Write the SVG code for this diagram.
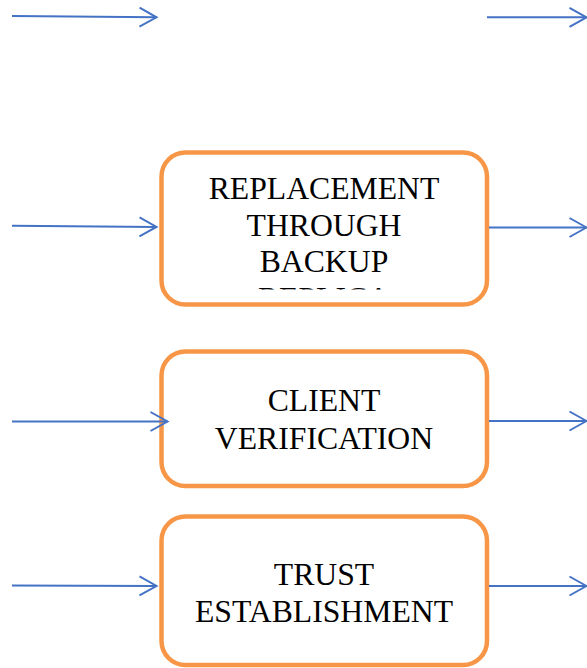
<svg xmlns="http://www.w3.org/2000/svg" width="587" height="668" viewBox="0 0 587 668">
  <style>
    .box { fill: #ffffff; stroke: #F79646; stroke-width: 4.5; }
    .lbl { font-family: "Liberation Serif", "Times New Roman", serif; font-size: 31.7px; fill: #000000; text-anchor: middle; }
    .conn { stroke: #4472C4; stroke-width: 2; fill: none; marker-end: url(#arrow); }
  </style>
  <defs>
    <marker id="arrow" markerUnits="userSpaceOnUse" viewBox="-20 -12 22 24" refX="0" refY="0" markerWidth="22" markerHeight="24" orient="auto" overflow="visible">
      <path d="M-17,-9.5 L0,0 L-17,9.5" fill="none" stroke="#4472C4" stroke-width="2"/>
    </marker>
    <clipPath id="clip1">
      <rect x="165" y="155" width="318" height="134.5"/>
    </clipPath>
  </defs>

  <g id="node-replacement">
    <rect class="box" x="161.5" y="152.5" width="325.5" height="152" rx="24" ry="24"/>
    <g clip-path="url(#clip1)">
      <text class="lbl" x="324" y="199">REPLACEMENT</text>
      <text class="lbl" x="324" y="235.5">THROUGH</text>
      <text class="lbl" x="324" y="272">BACKUP</text>
      <text class="lbl" x="324" y="308.5">REPLICA</text>
    </g>
  </g>

  <g id="node-client">
    <rect class="box" x="161.5" y="351.5" width="325.5" height="134.5" rx="24" ry="24"/>
    <text class="lbl" x="324" y="411">CLIENT</text>
    <text class="lbl" x="324" y="449">VERIFICATION</text>
  </g>

  <g id="node-trust">
    <rect class="box" x="161.5" y="516.5" width="325.5" height="148.5" rx="24" ry="24"/>
    <text class="lbl" x="324" y="584.5">TRUST</text>
    <text class="lbl" x="324" y="622">ESTABLISHMENT</text>
  </g>

  <g id="connectors">
    <path class="conn" d="M12,16 L156.5,17.3"/>
    <path class="conn" d="M487,17.3 L586.5,17.3"/>
    <path class="conn" d="M12,225.7 L156.5,227"/>
    <path class="conn" d="M489,227.5 L586.5,227.5"/>
    <path class="conn" d="M12,421.5 L167.5,421.5"/>
    <path class="conn" d="M489,421 L586.5,421"/>
    <path class="conn" d="M12,585.5 L156.5,586"/>
    <path class="conn" d="M489,586 L586.5,586"/>
  </g>
</svg>
